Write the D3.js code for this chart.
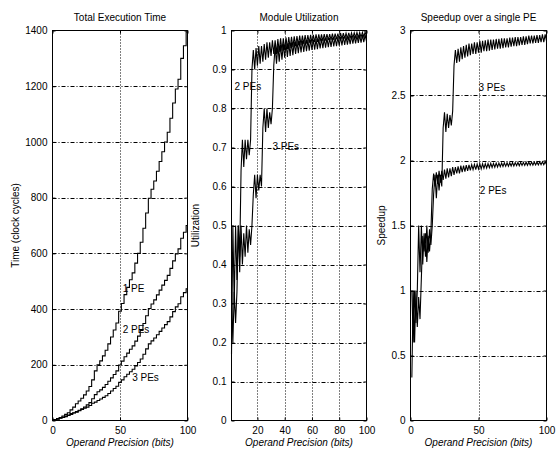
<!DOCTYPE html>
<html>
<head>
<meta charset="utf-8">
<script src="https://cdn.jsdelivr.net/npm/d3@7"></script>
<style>
body { margin: 0; background: #fff; }
text { font-family: "Liberation Sans", Arial, sans-serif; fill: #000; }
</style>
</head>
<body>
<div id="chart"></div>
<script>
var width = 556;
var height = 452;
var top_ = 30.5, bottom_ = 420.5;

// operand precision for the time curves (every 2 bits)
var bitsTime = d3.range(0, 101, 2);
// total execution time, clock cycles
var time1PE = [0,3,7,11,16,22,28,38,48,60,70,80,92,106,122,146,178,200,214,232,252,275,300,325,350,392,420,452,478,505,530,565,600,640,690,745,798,830,860,895,930,965,1000,1035,1085,1140,1190,1225,1300,1345,1395];
var time2PE = [0,3,6,9,12,16,20,25,28,32,37,42,48,56,64,78,93,103,110,119,129,141,153,165,178,199,213,229,242,256,268,285,303,323,348,376,402,418,433,451,468,486,503,521,546,573,598,616,654,676,700];
var time3PE = [0,2,5,8,11,14,18,22,27,30,35,40,44,48,54,62,66,72,77,83,89,97,106,115,123,137,146,157,166,175,184,196,208,221,238,257,275,286,296,308,320,332,344,355,372,391,408,419,444,459,473];

// operand precision for utilization / speedup (every bit)
var bits = d3.range(1, 101);
var util2PE = [0.17,0.5,0.3,0.5,0.36,0.5,0.42,
  0.64,0.72,0.65,0.72,0.67,0.72,0.68,0.72,
  0.9,0.95,0.9,0.955,0.91,0.96,0.915,0.96,0.92,0.965,0.925,0.97,0.93,0.97,0.935,0.975,
  0.94,0.975,0.94,0.978,0.945,0.98,0.948,0.98,0.95,0.982,0.953,0.983,0.955,0.984,0.958,0.985,0.96,0.986,0.962,
  0.987,0.963,0.987,0.965,0.988,0.966,0.988,0.968,0.989,0.969,0.989,0.97,0.99,0.971,0.99,0.972,0.99,0.973,0.991,0.974,
  0.991,0.975,0.991,0.976,0.992,0.976,0.992,0.977,0.992,0.978,0.993,0.978,0.993,0.979,0.993,0.98,0.994,0.98,0.994,0.981,0.994,0.982,0.995,0.982,0.995,0.983,0.995,0.984,0.996,0.985];
var util3PE = [0.33,0.2,0.33,0.25,0.33,
  0.5,0.38,0.5,0.4,0.48,0.42,0.5,0.43,0.49,0.45,0.5,
  0.58,0.63,0.57,0.63,0.59,0.63,0.6,
  0.75,0.8,0.74,0.8,0.75,0.79,0.76,0.8,
  0.91,0.96,0.915,0.962,0.92,0.964,0.925,0.965,0.93,0.967,0.932,0.968,0.935,0.97,0.937,0.971,0.94,0.972,0.942,
  0.973,0.944,0.974,0.945,0.975,0.947,0.976,0.948,0.977,0.95,0.977,0.951,0.978,0.952,0.979,0.954,0.979,0.955,0.98,0.956,
  0.981,0.957,0.981,0.958,0.982,0.959,0.982,0.96,0.983,0.961,0.984,0.962,0.984,0.963,0.985,0.964,0.985,0.965,0.986,0.966,0.986,0.967,0.987,0.968,0.988,0.969,0.988,0.97,0.989,0.972];
var speed2PE = [0.33,1.0,0.6,1.0,0.72,0.95,0.78,1.1,
  1.42,1.3,1.44,1.22,1.42,1.3,1.45,
  1.78,1.9,1.8,1.91,1.82,1.92,1.83,1.92,1.85,1.93,1.86,1.94,1.87,1.94,1.88,1.95,
  1.89,1.95,1.9,1.955,1.9,1.96,1.91,1.96,1.915,1.965,1.92,1.966,1.925,1.968,1.93,1.97,1.93,1.972,1.935,
  1.974,1.936,1.975,1.94,1.976,1.942,1.977,1.945,1.978,1.946,1.978,1.948,1.98,1.95,1.98,1.952,1.98,1.954,1.982,1.955,
  1.982,1.956,1.983,1.958,1.984,1.958,1.984,1.96,1.985,1.96,1.986,1.962,1.986,1.962,1.987,1.963,1.988,1.964,1.988,1.965,1.988,1.966,1.989,1.966,1.99,1.967,1.99,1.968,1.99,1.97];
var speed3PE = [1.0,0.6,1.0,0.75,1.0,
  1.5,1.14,1.5,1.2,1.44,1.26,1.5,1.29,1.47,1.35,1.5,
  1.74,1.89,1.71,1.89,1.77,1.89,1.8,
  2.25,2.37,2.22,2.36,2.25,2.35,2.27,2.38,
  2.73,2.85,2.75,2.86,2.76,2.87,2.78,2.88,2.79,2.89,2.8,2.9,2.81,2.9,2.82,2.91,2.82,2.91,2.83,
  2.92,2.83,2.92,2.84,2.925,2.84,2.93,2.845,2.93,2.85,2.93,2.855,2.935,2.86,2.935,2.86,2.94,2.865,2.94,2.87,
  2.94,2.87,2.945,2.875,2.945,2.88,2.95,2.88,2.95,2.885,2.95,2.89,2.955,2.89,2.955,2.895,2.96,2.9,2.96,2.9,2.96,2.905,2.965,2.905,2.965,2.91,2.97,2.91,2.97,2.92];

var svg = d3.select('#chart').append('svg')
  .attr('width', width)
  .attr('height', height)
  .style('display', 'block');

svg.append('rect').attr('width', width).attr('height', height).attr('fill', '#fff');

// snap a coordinate onto the pixel grid so 1px lines stay crisp
var crisp = (v) => Math.round(v) + 0.5;

function drawPanel(p) {
  var x = d3.scaleLinear().domain(p.xDomain).range([p.left, p.right]);
  var y = d3.scaleLinear().domain(p.yDomain).range([bottom_, top_]);
  var g = svg.append('g');

  // dash-dot grid
  g.selectAll('.gx').data(p.xTicks.filter(d => d > p.xDomain[0] && d < p.xDomain[1]))
    .enter().append('line')
      .attr('x1', d => crisp(x(d))).attr('x2', d => crisp(x(d)))
      .attr('y1', top_).attr('y2', bottom_)
      .attr('stroke', '#000').attr('stroke-width', 1)
      .attr('stroke-dasharray', '1,2');
  g.selectAll('.gy').data(p.yTicks.filter(d => d > p.yDomain[0] && d < p.yDomain[1]))
    .enter().append('line')
      .attr('x1', p.left).attr('x2', p.right)
      .attr('y1', d => crisp(y(d))).attr('y2', d => crisp(y(d)))
      .attr('stroke', '#000').attr('stroke-width', 1)
      .attr('stroke-dasharray', '4,2,1,2');

  g.append('g')
    .attr('transform', 'translate(0,' + bottom_ + ')')
    .call(d3.axisBottom(x).tickValues(p.xTicks).tickSizeInner(-3).tickSizeOuter(0).tickPadding(6)
      .tickFormat(d3.format('d')));
  g.append('g')
    .attr('transform', 'translate(' + p.left + ',0)')
    .call(d3.axisLeft(y).tickValues(p.yTicks).tickSizeInner(-3).tickSizeOuter(0).tickPadding(5)
      .tickFormat(p.yFormat));
  g.append('g').attr('transform', 'translate(0,' + top_ + ')')
    .call(d3.axisTop(x).tickValues(p.xTicks).tickSizeInner(-3).tickSizeOuter(0).tickFormat(''));
  g.append('g').attr('transform', 'translate(' + p.right + ',0)')
    .call(d3.axisRight(y).tickValues(p.yTicks).tickSizeInner(-3).tickSizeOuter(0).tickFormat(''));
  g.selectAll('.domain').remove();
  g.selectAll('.tick line').attr('stroke', '#000');
  g.selectAll('.tick text').style('font-size', '10px').attr('fill', '#000');

  // series
  var line = d3.line()
    .x(d => x(d[0]))
    .y(d => y(d[1]))
    .curve(p.curve || d3.curveLinear);
  p.series.forEach((s) => {
    g.append('path')
      .datum(p.xs.map((v, i) => [v, s[i]]))
      .attr('d', line)
      .attr('fill', 'none')
      .attr('stroke', '#000')
      .attr('stroke-width', 1.1);
  });

  // frame
  g.append('rect')
    .attr('x', p.left).attr('y', top_)
    .attr('width', p.right - p.left).attr('height', bottom_ - top_)
    .attr('fill', 'none').attr('stroke', '#000').attr('stroke-width', 1);

  // inline curve labels
  p.labels.forEach((l) => {
    g.append('text')
      .attr('x', x(l.x)).attr('y', y(l.y))
      .attr('dy', '.35em')
      .style('font-size', '10px')
      .text(l.text);
  });

  // title and axis labels
  g.append('text')
    .attr('x', (p.left + p.right) / 2).attr('y', 21)
    .attr('text-anchor', 'middle')
    .style('font-size', '10px')
    .text(p.title);
  g.append('text')
    .attr('x', (p.left + p.right) / 2).attr('y', 446)
    .attr('text-anchor', 'middle')
    .style('font-size', '10px').style('font-style', 'italic')
    .text('Operand Precision (bits)');
  g.append('text')
    .attr('transform', 'translate(' + p.yLabelX + ',' + ((top_ + bottom_) / 2) + ') rotate(-90)')
    .attr('text-anchor', 'middle')
    .style('font-size', '10px')
    .text(p.yLabel);
}

drawPanel({
  left: 52.5, right: 187.5,
  xDomain: [0, 100], yDomain: [0, 1400],
  xTicks: [0, 50, 100], yTicks: [0, 200, 400, 600, 800, 1000, 1200, 1400],
  yFormat: d3.format('d'),
  xs: bitsTime, series: [time1PE, time2PE, time3PE],
  curve: d3.curveStep,
  labels: [{x: 52, y: 474, text: '1 PE'}, {x: 52, y: 326, text: '2 PEs'}, {x: 59, y: 153, text: '3 PEs'}],
  title: 'Total Execution Time',
  yLabel: 'Time (clock cycles)', yLabelX: 19
});

drawPanel({
  left: 231.5, right: 366.5,
  xDomain: [1, 100], yDomain: [0, 1],
  xTicks: [20, 40, 60, 80, 100], yTicks: [0, 0.1, 0.2, 0.3, 0.4, 0.5, 0.6, 0.7, 0.8, 0.9, 1],
  yFormat: d3.format('~g'),
  xs: bits, series: [util2PE, util3PE],
  labels: [{x: 3.2, y: 0.856, text: '2 PEs'}, {x: 31, y: 0.702, text: '3 PEs'}],
  title: 'Module Utilization',
  yLabel: 'Utilization', yLabelX: 199
});

drawPanel({
  left: 410.5, right: 546.5,
  xDomain: [0, 100], yDomain: [0, 3],
  xTicks: [0, 50, 100], yTicks: [0, 0.5, 1, 1.5, 2, 2.5, 3],
  yFormat: d3.format('~g'),
  xs: bits, series: [speed2PE, speed3PE],
  labels: [{x: 50, y: 2.56, text: '3 PEs'}, {x: 51, y: 1.77, text: '2 PEs'}],
  title: 'Speedup over a single PE',
  yLabel: 'Speedup', yLabelX: 385
});
</script>
</body>
</html>
